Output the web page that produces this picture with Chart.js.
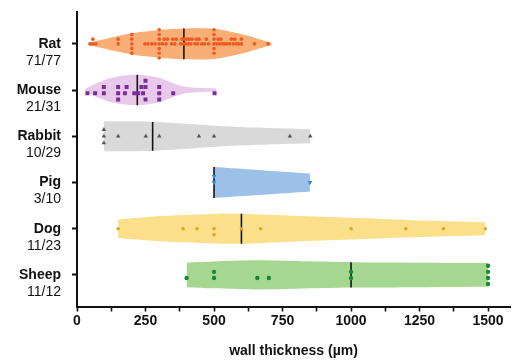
<!DOCTYPE html>
<html>
<head>
<meta charset="utf-8">
<script src="https://cdn.jsdelivr.net/npm/chart.js@4.4.1/dist/chart.umd.min.js"></script>
<style>
  html, body { margin: 0; padding: 0; background: #fff; }
</style>
</head>
<body>
<canvas id="chart" width="514" height="360"></canvas>
<script>
// categories and sample sizes
const species = ["Rat", "Mouse", "Rabbit", "Pig", "Dog", "Sheep"];
const counts = ["71/77", "21/31", "10/29", "3/10", "11/23", "11/12"];

// wall thickness per study (µm)
const ratValues = [48, 58, 58, 69, 150, 150, 200, 200, 200, 200, 200,
  248, 259, 273, 285, 300, 300, 300, 300, 300, 300, 300,
  312, 318, 325, 330, 345, 350, 357, 362,
  378, 383, 388, 392, 396, 401, 405, 410, 415, 420,
  430, 435, 440, 445, 455, 465, 472, 480,
  500, 500, 500, 500, 500, 500, 510, 515, 520, 525, 530, 538, 546,
  557, 563, 570, 575, 581, 590, 600, 600, 648, 697];
const mouseValues = [38, 66, 98, 98, 150, 150, 150, 175, 181, 209, 223,
  235, 241, 250, 250, 250, 300, 300, 300, 351, 502];
const rabbitValues = [98, 98, 98, 150, 251, 300, 445, 500, 777, 851];
const pigValues = [500, 500, 850];
const dogValues = [150, 387, 438, 500, 500, 600, 670, 1000, 1200, 1337, 1490];
const sheepValues = [400, 500, 500, 658, 700, 1000, 1000, 1500, 1500, 1500, 1500];

const medians = [390, 220, 276, 500, 600, 1000];

// violin outlines: thickness positions and half widths (fraction of a category step)
const ratShapeX = [40, 90, 130, 200, 300, 400, 500, 570, 620, 665, 710];
const ratShapeW = [0.02, 0.09, 0.145, 0.23, 0.30, 0.335, 0.325, 0.25, 0.18, 0.10, 0.03];
const mouseShapeX = [29, 50, 71, 131, 220, 302, 351, 400, 440, 508];
const mouseShapeW = [0.02, 0.087, 0.15, 0.275, 0.33, 0.26, 0.15, 0.065, 0.048, 0.032];
const rabbitShapeX = [98, 250, 400, 533, 700, 851];
const rabbitShapeW = [0.325, 0.32, 0.27, 0.215, 0.178, 0.152];
const pigShapeX = [500, 675, 850];
const pigShapeW = [0.335, 0.266, 0.195];
const dogShapeX = [150, 250, 363, 500, 600, 787, 1000, 1219, 1490];
const dogShapeW = [0.2, 0.25, 0.29, 0.32, 0.325, 0.28, 0.235, 0.185, 0.14];
const sheepShapeX = [400, 500, 650, 800, 1000, 1250, 1500];
const sheepShapeW = [0.265, 0.29, 0.315, 0.3, 0.275, 0.265, 0.255];

const xTickLabels = [0, 250, 500, 750, 1000, 1250, 1500];

const values = [ratValues, mouseValues, rabbitValues, pigValues, dogValues, sheepValues];
const shapeX = [ratShapeX, mouseShapeX, rabbitShapeX, pigShapeX, dogShapeX, sheepShapeX];
const shapeW = [ratShapeW, mouseShapeW, rabbitShapeW, pigShapeW, dogShapeW, sheepShapeW];

// look of each group
const styles = [
  { fill: "#f8ae74", dot: "#ef5a24", shape: "circle", r: 1.8, rot: 0, step: 0.102, gap: 8, slots: [0, -1, 1, -2, 2, -3, 3] },
  { fill: "#e9c9e9", dot: "#7a2c9e", shape: "rect", r: 2.8, rot: 0, step: 0.136, gap: 14, slots: [0.5, -0.5, 1.5, -1.5] },
  { fill: "#d9d9d9", dot: "#555555", shape: "triangle", r: 2.6, rot: 0, step: 0.145, gap: 14, slots: [0, -1, 1] },
  { fill: "#9dc0e8", dot: "#2e8ee0", shape: "triangle", r: 2.8, rot: 180, step: 0.13, gap: 14, slots: [0, -1, 1] },
  { fill: "#fbdf8b", dot: "#d9a628", shape: "circle", r: 1.8, rot: 0, step: 0.13, gap: 14, slots: [0, 1, -1] },
  { fill: "#a5d791", dot: "#17873a", shape: "circle", r: 2.2, rot: 0, step: 0.132, gap: 14, slots: [0.5, -0.5, 1.5, -1.5] }
];

const FONT = "'Liberation Sans', Arial, Helvetica, sans-serif";
Chart.defaults.font.family = FONT;
Chart.defaults.color = "#111";

// simple beeswarm: put each point in the first row where it does not overlap
function swarm(vals, slots, gap) {
  const placed = slots.map(() => []);
  return vals.slice().sort((a, b) => a - b).map(v => {
    let k = slots.findIndex((s, j) => placed[j].every(p => Math.abs(p - v) >= gap));
    if (k < 0) k = 0;
    placed[k].push(v);
    return { v, row: slots[k] };
  });
}

function widthAt(xs, ws, x) {
  if (x <= xs[0]) return ws[0];
  for (let k = 1; k < xs.length; k++) {
    if (x <= xs[k]) {
      const t = (x - xs[k - 1]) / (xs[k] - xs[k - 1]);
      return ws[k - 1] + t * (ws[k] - ws[k - 1]);
    }
  }
  return ws[ws.length - 1];
}

const datasets = [];
species.forEach((name, i) => {
  const st = styles[i];
  datasets.push({
    type: "line",
    data: shapeX[i].map((x, k) => ({ x, y: i - shapeW[i][k] })),
    borderColor: "rgba(0,0,0,0)",
    borderWidth: 0,
    pointRadius: 0,
    fill: false,
    tension: 0.3,
    order: 3
  });
  datasets.push({
    type: "line",
    data: shapeX[i].map((x, k) => ({ x, y: i + shapeW[i][k] })),
    borderColor: "rgba(0,0,0,0)",
    borderWidth: 0,
    backgroundColor: st.fill,
    pointRadius: 0,
    fill: "-1",
    tension: 0.3,
    order: 3
  });
  const w = widthAt(shapeX[i], shapeW[i], medians[i]);
  datasets.push({
    type: "line",
    data: [{ x: medians[i], y: i - w }, { x: medians[i], y: i + w }],
    borderColor: "#151515",
    borderWidth: 1.6,
    pointRadius: 0,
    fill: false,
    order: 2
  });
  datasets.push({
    type: "line",
    showLine: false,
    data: swarm(values[i], st.slots, st.gap).map(p => ({ x: p.v, y: i + p.row * st.step })),
    pointStyle: st.shape,
    pointRadius: st.r,
    pointRotation: st.rot,
    pointBackgroundColor: st.dot,
    pointBorderWidth: 0,
    order: 1
  });
});

const yLabels = {
  id: "yLabels",
  afterDraw(chart) {
    const { ctx, scales: { y } } = chart;
    ctx.save();
    ctx.fillStyle = "#111";
    ctx.textAlign = "right";
    ctx.textBaseline = "middle";
    species.forEach((name, i) => {
      const py = y.getPixelForValue(i);
      ctx.font = "bold 14px " + FONT;
      ctx.fillText(name, y.right - 16, py);
      ctx.font = "14px " + FONT;
      ctx.fillText(counts[i], y.right - 16, py + 17);
    });
    ctx.restore();
  }
};

new Chart(document.getElementById("chart"), {
  type: "line",
  data: { datasets },
  plugins: [yLabels],
  options: {
    responsive: false,
    animation: false,
    layout: { padding: { top: 12, right: 3, left: 0, bottom: 0 } },
    plugins: { legend: { display: false }, tooltip: { enabled: false } },
    scales: {
      x: {
        type: "linear",
        min: 0,
        max: 1580,
        afterBuildTicks: scale => {
          const ticks = [];
          for (let v = 0; v <= xTickLabels[xTickLabels.length - 1]; v += 125) ticks.push({ value: v });
          scale.ticks = ticks;
        },
        afterFit: scale => { scale.height = 53.5; },
        ticks: {
          padding: 1,
          maxRotation: 0,
          autoSkip: false,
          font: { size: 14, weight: "bold" },
          color: "#111",
          callback: v => (xTickLabels.includes(v) ? String(v) : "")
        },
        grid: { drawOnChartArea: false, color: "#111", tickLength: 5, tickWidth: 1.6 },
        border: { color: "#111", width: 2 },
        title: {
          display: true,
          text: "wall thickness (µm)",
          font: { size: 14, weight: "bold" },
          color: "#111",
          padding: { top: 0, bottom: 0 }
        }
      },
      y: {
        type: "linear",
        min: -0.69,
        max: 5.684,
        reverse: true,
        afterBuildTicks: scale => { scale.ticks = species.map((s, i) => ({ value: i })); },
        afterFit: scale => { scale.width = 77; },
        ticks: { callback: () => "" },
        grid: { drawOnChartArea: false, color: "#111", tickLength: 5, tickWidth: 2 },
        border: { color: "#111", width: 2 }
      }
    }
  }
});
</script>
</body>
</html>
